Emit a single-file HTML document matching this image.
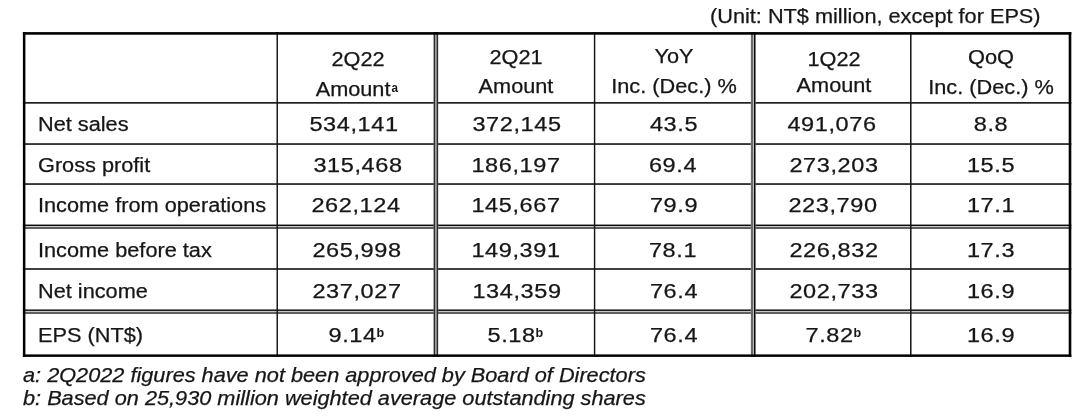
<!DOCTYPE html>
<html><head><meta charset="utf-8"><title>Financial summary</title>
<style>
html,body{margin:0;padding:0;background:#fff;}
body{width:1092px;height:420px;position:relative;overflow:hidden;font-family:"Liberation Sans",Arial,Helvetica,sans-serif;color:#161616;}
.g{position:absolute;left:0;top:0;}
.t{filter:blur(0.35px);position:absolute;font-size:19.6px;line-height:20px;height:20px;white-space:nowrap;-webkit-text-stroke:0.25px #161616;}
.t>span.x{display:inline-block;}
.l{transform:scaleX(1.108);transform-origin:0 0;}
.c{text-align:center;transform:scaleX(1.108);transform-origin:50% 0;}
.n{letter-spacing:0.5px;transform:scaleX(1.2);}
.i{font-style:italic;}
.s{display:inline-block;font-size:12.2px;font-weight:bold;letter-spacing:0;-webkit-text-stroke:0;position:relative;top:-5.0px;line-height:1;transform:scaleX(0.86);transform-origin:0 50%;margin-left:0px;margin-right:-1.8px;}
.sa{margin-left:1px;margin-right:-2.5px;top:-3.8px;}
</style></head><body>
<svg class="g" width="1092" height="420" viewBox="0 0 1092 420">
<rect x="22.90" y="102.00" width="1048.40" height="1.70" fill="#202020"/>
<rect x="22.90" y="143.20" width="1048.40" height="1.70" fill="#202020"/>
<rect x="22.90" y="183.20" width="1048.40" height="1.70" fill="#202020"/>
<rect x="22.90" y="268.15" width="1048.40" height="1.70" fill="#202020"/>
<rect x="22.90" y="224.60" width="1048.40" height="4.40" fill="#d4d4d4"/>
<rect x="22.90" y="224.60" width="1048.40" height="1.40" fill="#0c0c0c"/>
<rect x="22.90" y="226.90" width="1048.40" height="2.10" fill="#606060"/>
<rect x="22.90" y="309.50" width="1048.40" height="4.50" fill="#d4d4d4"/>
<rect x="22.90" y="309.50" width="1048.40" height="1.40" fill="#0c0c0c"/>
<rect x="22.90" y="311.90" width="1048.40" height="2.10" fill="#606060"/>
<rect x="276.50" y="32.10" width="1.45" height="324.80" fill="#141414"/>
<rect x="593.85" y="32.10" width="1.45" height="324.80" fill="#141414"/>
<rect x="910.05" y="32.10" width="1.50" height="324.80" fill="#141414"/>
<rect x="433.70" y="32.10" width="4.40" height="324.80" fill="#9c9c9c"/>
<rect x="433.70" y="32.10" width="1.30" height="324.80" fill="#2c2c2c"/>
<rect x="436.80" y="32.10" width="1.30" height="324.80" fill="#2c2c2c"/>
<rect x="750.90" y="32.10" width="4.60" height="324.80" fill="#dcdcdc"/>
<rect x="750.90" y="32.10" width="2.20" height="324.80" fill="#6a6a6a"/>
<rect x="753.90" y="32.10" width="1.60" height="324.80" fill="#0a0a0a"/>
<rect x="22.90" y="32.10" width="1048.40" height="2.60" fill="#000"/>
<rect x="22.90" y="354.40" width="1048.40" height="2.50" fill="#000"/>
<rect x="22.90" y="32.10" width="2.50" height="324.80" fill="#000"/>
<rect x="1068.70" y="32.10" width="2.60" height="324.80" fill="#000"/>
</svg>
<div class="t l " style="left:710.00px;top:5.60px">(Unit: NT$ million, except for EPS)</div>
<div class="t l " style="left:38.40px;top:113.90px">Net sales</div>
<div class="t l " style="left:38.40px;top:154.60px">Gross profit</div>
<div class="t l " style="left:38.40px;top:195.10px">Income from operations</div>
<div class="t l " style="left:38.40px;top:240.20px">Income before tax</div>
<div class="t l " style="left:38.40px;top:281.10px">Net income</div>
<div class="t l " style="left:38.40px;top:324.60px">EPS (NT$)</div>
<div class="t l i" style="left:23.10px;top:365.40px">a: 2Q2022 figures have not been approved by Board of Directors</div>
<div class="t l i" style="left:23.10px;top:387.60px">b: Based on 25,930 million weighted average outstanding shares</div>
<div class="t c " style="left:257.50px;width:200px;top:48.90px">2Q22</div>
<div class="t c " style="left:256.10px;width:200px;top:78.90px">Amount<span class="s sa">a</span></div>
<div class="t c " style="left:416.10px;width:200px;top:46.90px">2Q21</div>
<div class="t c " style="left:416.10px;width:200px;top:76.40px">Amount</div>
<div class="t c " style="left:574.20px;width:200px;top:46.42px;font-size:21.0px;transform:scaleX(1.034)">YoY</div>
<div class="t c " style="left:574.40px;width:200px;top:76.47px;font-size:20.0px;transform:scaleX(1.086)">Inc. (Dec.) %</div>
<div class="t c " style="left:733.80px;width:200px;top:48.90px">1Q22</div>
<div class="t c " style="left:733.80px;width:200px;top:75.20px">Amount</div>
<div class="t c " style="left:891.40px;width:200px;top:46.62px;font-size:21.0px;transform:scaleX(1.04)">QoQ</div>
<div class="t c " style="left:890.80px;width:200px;top:76.67px;font-size:20.0px;transform:scaleX(1.086)">Inc. (Dec.) %</div>
<div class="t c n" style="left:254.40px;width:200px;top:114.20px">534,141</div>
<div class="t c n" style="left:416.50px;width:200px;top:114.20px">372,145</div>
<div class="t c n" style="left:573.70px;width:200px;top:114.20px">43.5</div>
<div class="t c n" style="left:731.60px;width:200px;top:114.20px">491,076</div>
<div class="t c n" style="left:890.80px;width:200px;top:114.20px">8.8</div>
<div class="t c n" style="left:257.60px;width:200px;top:154.90px">315,468</div>
<div class="t c n" style="left:416.40px;width:200px;top:154.90px">186,197</div>
<div class="t c n" style="left:573.30px;width:200px;top:154.90px">69.4</div>
<div class="t c n" style="left:733.50px;width:200px;top:154.90px">273,203</div>
<div class="t c n" style="left:891.20px;width:200px;top:154.90px">15.5</div>
<div class="t c n" style="left:256.30px;width:200px;top:195.20px">262,124</div>
<div class="t c n" style="left:416.40px;width:200px;top:195.20px">145,667</div>
<div class="t c n" style="left:573.50px;width:200px;top:195.20px">79.9</div>
<div class="t c n" style="left:733.10px;width:200px;top:195.20px">223,790</div>
<div class="t c n" style="left:890.50px;width:200px;top:195.20px">17.1</div>
<div class="t c n" style="left:257.00px;width:200px;top:240.10px">265,998</div>
<div class="t c n" style="left:416.30px;width:200px;top:240.10px">149,391</div>
<div class="t c n" style="left:572.60px;width:200px;top:240.10px">78.1</div>
<div class="t c n" style="left:733.50px;width:200px;top:240.10px">226,832</div>
<div class="t c n" style="left:891.10px;width:200px;top:240.10px">17.3</div>
<div class="t c n" style="left:257.00px;width:200px;top:281.40px">237,027</div>
<div class="t c n" style="left:417.00px;width:200px;top:281.40px">134,359</div>
<div class="t c n" style="left:573.90px;width:200px;top:281.40px">76.4</div>
<div class="t c n" style="left:733.50px;width:200px;top:281.40px">202,733</div>
<div class="t c n" style="left:891.10px;width:200px;top:281.40px">16.9</div>
<div class="t c n" style="left:256.20px;width:200px;top:324.90px">9.14<span class="s">b</span></div>
<div class="t c n" style="left:415.20px;width:200px;top:324.90px">5.18<span class="s">b</span></div>
<div class="t c n" style="left:573.90px;width:200px;top:324.90px">76.4</div>
<div class="t c n" style="left:732.60px;width:200px;top:324.90px">7.82<span class="s">b</span></div>
<div class="t c n" style="left:891.10px;width:200px;top:324.90px">16.9</div>
</body></html>
